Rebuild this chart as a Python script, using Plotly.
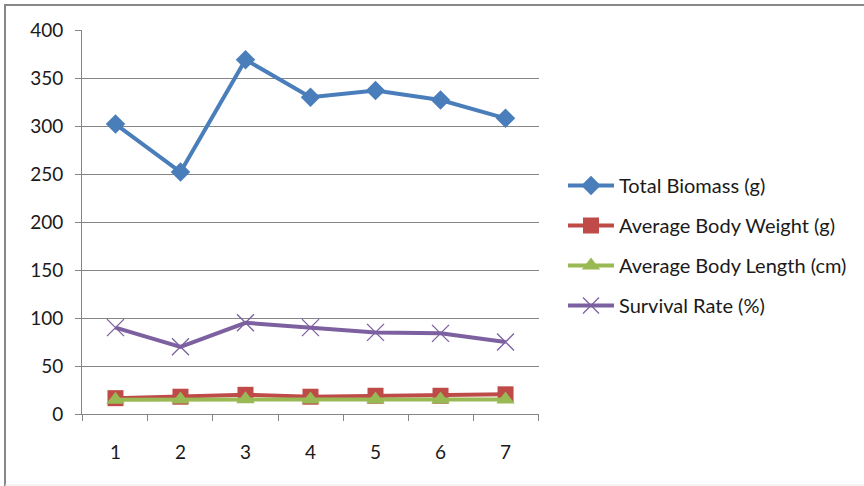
import plotly.graph_objects as go

# Sampling points along the x axis
categories = ["1", "2", "3", "4", "5", "6", "7"]

# Series values
total_biomass = [302, 252, 369, 330, 337, 327, 308]
avg_body_weight = [16.5, 18, 20, 18, 19, 19, 20.5]
avg_body_length = [14.8, 15.2, 15.3, 15.1, 15.2, 15.2, 15.0]
survival_rate = [90, 70, 95, 90, 85, 84, 75]

y_ticks = [0, 50, 100, 150, 200, 250, 300, 350, 400]

FONT = "Lato, 'Liberation Sans', Arial, sans-serif"

# Plot-area placement in pixels (864 x 486 canvas)
L, R, T, B = 82, 325, 30, 72
W, H = 864, 486
PW, PH = W - L - R, H - T - B


def px_x(px):
    return (px - L) / PW


def px_y(py):
    return (H - B - py) / PH


fig = go.Figure()

fig.add_trace(go.Scatter(
    x=categories, y=total_biomass, name="Total Biomass (g)",
    mode="lines+markers", legendgroup="a",
    line=dict(color="#4A7EBB", width=4),
    marker=dict(symbol="diamond", size=15, color="#4A7EBB"),
))
fig.add_trace(go.Scatter(
    x=categories, y=avg_body_weight, name="Average Body Weight (g)",
    mode="lines+markers", legendgroup="b",
    line=dict(color="#BE4B48", width=4),
    marker=dict(symbol="square", size=16, color="#BE4B48"),
))
fig.add_trace(go.Scatter(
    x=categories, y=avg_body_length, name="Average Body Length (cm)",
    mode="lines+markers", legendgroup="c",
    line=dict(color="#98B954", width=4),
    marker=dict(symbol="triangle-up", size=16, color="#98B954"),
))
fig.add_trace(go.Scatter(
    x=categories, y=survival_rate, name="Survival Rate (%)",
    mode="lines+markers", legendgroup="d",
    line=dict(color="#7D60A0", width=4),
    marker=dict(symbol="x-thin-open", size=17,
                line=dict(color="#A898CC", width=1.3)),
))

# Outer chart frame (left and top darker, bottom faint)
fig.add_shape(type="line", xref="paper", yref="paper",
              x0=px_x(5), x1=px_x(5), y0=px_y(5), y1=px_y(486),
              line=dict(color="#878787", width=2))
fig.add_shape(type="line", xref="paper", yref="paper",
              x0=px_x(4), x1=px_x(864), y0=px_y(5), y1=px_y(5),
              line=dict(color="#878787", width=2))
fig.add_shape(type="line", xref="paper", yref="paper",
              x0=px_x(5), x1=px_x(864), y0=px_y(485), y1=px_y(485),
              line=dict(color="#E8E8E8", width=1))

fig.update_layout(
    width=W, height=H,
    margin=dict(l=L, r=R, t=T, b=B),
    paper_bgcolor="white", plot_bgcolor="white",
    font=dict(family=FONT, size=19, color="#1a1a1a"),
    showlegend=True,
    legend=dict(
        xref="container", yref="container",
        x=563 / W, y=1 - 166 / H, xanchor="left", yanchor="top",
        font=dict(family=FONT, size=20, color="#1a1a1a"),
        tracegroupgap=11, itemwidth=46,
        bgcolor="rgba(0,0,0,0)",
    ),
    xaxis=dict(
        type="category", tickson="boundaries",
        ticks="outside", ticklen=6, tickcolor="#868686",
        showline=True, linecolor="#868686", linewidth=1,
        showgrid=False, zeroline=False,
        ticklabelstandoff=21,
        tickfont=dict(family=FONT, size=19, color="#1a1a1a"),
    ),
    yaxis=dict(
        range=[0, 400], tickvals=y_ticks,
        ticks="outside", ticklen=6, tickcolor="#868686",
        showline=True, linecolor="#868686", linewidth=1,
        showgrid=True, gridcolor="#868686", gridwidth=1,
        zeroline=False,
        ticklabelstandoff=8,
        tickfont=dict(family=FONT, size=19, color="#1a1a1a"),
    ),
)

fig.write_html("out.html")
